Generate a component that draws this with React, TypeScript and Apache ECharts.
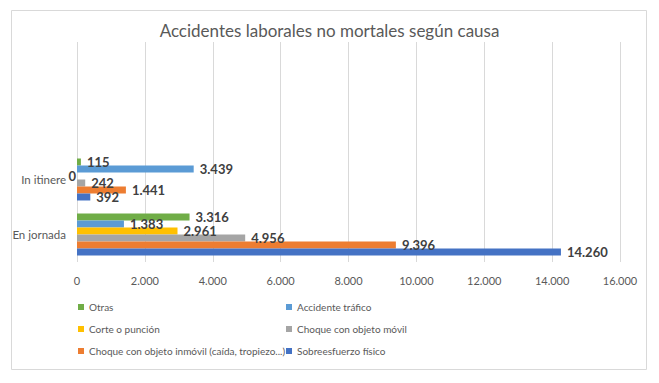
import React, { useEffect, useRef } from "react";
import * as echarts from "echarts";

const categories = ["En jornada", "In itinere"];
const seriesNames = [
  "Otras",
  "Accidente tráfico",
  "Corte o punción",
  "Choque con objeto móvil",
  "Choque con objeto inmóvil (caída, tropiezo...)",
  "Sobreesfuerzo físico",
];
const colors = ["#70ad47", "#5b9bd5", "#ffc000", "#a5a5a5", "#ed7d31", "#4472c4"];
const otras = [3316, 115];
const accidenteTrafico = [1383, 3439];
const cortePuncion = [2961, 0];
const choqueMovil = [4956, 242];
const choqueInmovil = [9396, 1441];
const sobreesfuerzo = [14260, 392];
const seriesValues = [otras, accidenteTrafico, cortePuncion, choqueMovil, choqueInmovil, sobreesfuerzo];
const xTicks = { min: 0, max: 16000, interval: 2000 };

const FONT = "Lato";
const fmt = (v: number) => String(v).replace(/\B(?=(\d{3})+(?!\d))/g, ".");

const legendBase = {
  orient: "vertical",
  top: 300,
  padding: 0,
  itemWidth: 6,
  itemHeight: 6,
  itemGap: 8,
  icon: "rect",
  textStyle: {
    color: "#595959",
    fontSize: 10,
    fontFamily: FONT,
    lineHeight: 14,
  },
};

export default function App() {
  const ref = useRef<HTMLDivElement>(null);
  useEffect(() => {
    if (!ref.current) return;
    const chart = echarts.init(ref.current, null, { renderer: "svg" });
    chart.setOption({
      animation: false,
      color: colors,
      textStyle: { fontFamily: FONT },
      title: {
        text: "Accidentes laborales no mortales según causa",
        left: "center",
        top: 17,
        textStyle: { fontFamily: FONT, fontSize: 17, fontWeight: "normal", color: "#595959" },
      },
      graphic: [
        {
          type: "rect",
          shape: { x: 11.5, y: 10.5, width: 635, height: 359 },
          style: { fill: "none", stroke: "#d9d9d9", lineWidth: 1 },
          silent: true,
        },
      ],
      grid: { left: 77, right: 39, top: 42, bottom: 121, containLabel: false },
      xAxis: {
        type: "value",
        min: xTicks.min,
        max: xTicks.max,
        interval: xTicks.interval,
        axisLine: { show: false },
        axisTick: { show: false },
        splitLine: { show: true, lineStyle: { color: "#d9d9d9", width: 1 } },
        axisLabel: {
          formatter: (v: number) => fmt(v),
          color: "#595959",
          fontSize: 11,
          fontFamily: FONT,
          margin: 13,
        },
      },
      yAxis: {
        type: "category",
        data: categories,
        max: 3,
        axisLine: { show: false },
        axisTick: { show: false },
        axisLabel: {
          color: "#595959",
          fontSize: 11.5,
          fontFamily: FONT,
          margin: 11,
          formatter: (v: string) => (v == null ? "" : v),
        },
      },
      legend: [
        { ...legendBase, left: 78, data: [seriesNames[0], seriesNames[2], seriesNames[4]] },
        { ...legendBase, left: 286, data: [seriesNames[1], seriesNames[3], seriesNames[5]] },
      ],
      series: seriesNames.map((name, i) => ({
        type: "bar",
        name,
        barWidth: 7,
        barGap: "0%",
        data: seriesValues[i].map((v) =>
          v === 0 ? { value: v, label: { position: "left", distance: 1 } } : v
        ),
        label: {
          show: true,
          position: "right",
          distance: 6,
          formatter: (p: any) => fmt(p.value),
          color: "#404040",
          fontSize: 13,
          fontWeight: "bold",
          fontFamily: FONT,
        },
      })),
    });
    return () => chart.dispose();
  }, []);
  return (
    <div
      ref={ref}
      style={{ position: "fixed", left: 0, top: 0, width: 659, height: 383, background: "#fff" }}
    />
  );
}
